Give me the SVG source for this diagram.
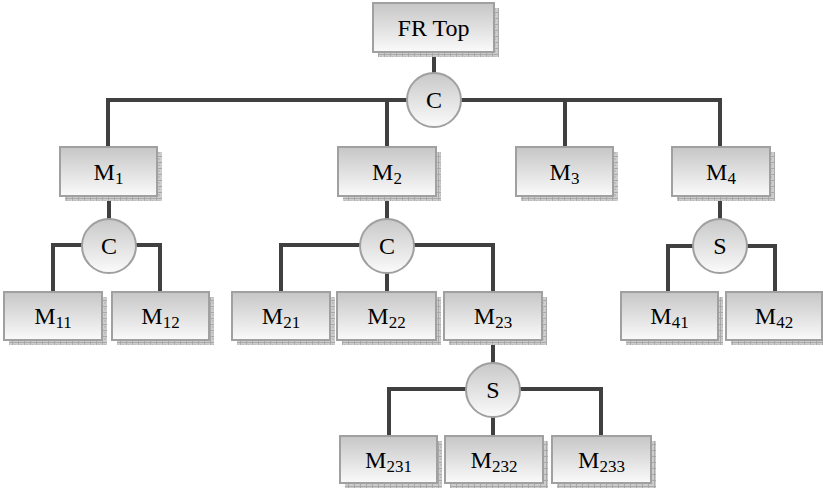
<svg xmlns="http://www.w3.org/2000/svg" width="823" height="492" viewBox="0 0 823 492">
<defs>
<linearGradient id="boxg" x1="0" y1="0" x2="0" y2="1">
<stop offset="0" stop-color="#c6c6c6"/>
<stop offset="1" stop-color="#fafafa"/>
</linearGradient>
<linearGradient id="circg" x1="0" y1="0" x2="0" y2="1">
<stop offset="0" stop-color="#c8c8c8"/>
<stop offset="1" stop-color="#fbfbfb"/>
</linearGradient>
<pattern id="hatch" width="6" height="6" patternUnits="userSpaceOnUse">
<rect width="6" height="6" fill="#cdcdcd"/>
<path d="M0 0.5H6M0.5 0V6" stroke="#a9a9a9" stroke-width="1"/>
<rect x="2" y="2" width="2" height="2" fill="#bdbdbd"/>
</pattern>
</defs>
<style>
.box{fill:url(#boxg);stroke:#a0a0a0;stroke-width:2}
.sh{fill:url(#hatch)}
.circ{fill:url(#circg);stroke:#a0a0a0;stroke-width:2}
.lbl{font-family:"Liberation Serif","Times New Roman",serif;font-size:24px;fill:#000;text-anchor:middle}
.sub{font-size:17px}
.con{fill:none;stroke:#404040;stroke-width:4}
</style>
<g id="connectors">
<path class="con" d="M434 52V73"/>
<path class="con" d="M108 147V100H720V147M387 100V147M565 100V147"/>
<path class="con" d="M109 196V219M53 292V245H160V292"/>
<path class="con" d="M387 196V219M281 292V245H493V292M387 273V292"/>
<path class="con" d="M720 196V219M668 292V246H775V292"/>
<path class="con" d="M493 340V363M389 436V389H601V436M493 417V436"/>
</g>
<g id="FRTop"><rect class="sh" x="378" y="8" width="121" height="49"/><rect class="box" x="373" y="3" width="121" height="49"/><text class="lbl" x="433.5" y="36">FR Top</text></g>
<g id="C0"><circle class="circ" cx="434" cy="100" r="27"/><text class="lbl" x="434" y="108">C</text></g>
<g id="M1"><rect class="sh" x="65" y="152" width="97" height="49"/><rect class="box" x="60" y="147" width="97" height="49"/><text class="lbl" x="108.5" y="180">M<tspan class="sub" dy="4">1</tspan></text></g>
<g id="M2"><rect class="sh" x="343" y="152" width="98" height="49"/><rect class="box" x="338" y="147" width="98" height="49"/><text class="lbl" x="387" y="180">M<tspan class="sub" dy="4">2</tspan></text></g>
<g id="M3"><rect class="sh" x="521" y="152" width="97" height="49"/><rect class="box" x="516" y="147" width="97" height="49"/><text class="lbl" x="564.5" y="180">M<tspan class="sub" dy="4">3</tspan></text></g>
<g id="M4"><rect class="sh" x="677" y="152" width="98" height="49"/><rect class="box" x="672" y="147" width="98" height="49"/><text class="lbl" x="721" y="180">M<tspan class="sub" dy="4">4</tspan></text></g>
<g id="C1"><circle class="circ" cx="109" cy="246" r="27"/><text class="lbl" x="109" y="254">C</text></g>
<g id="C2"><circle class="circ" cx="387" cy="246" r="27"/><text class="lbl" x="387" y="254">C</text></g>
<g id="S4"><circle class="circ" cx="720" cy="246" r="27"/><text class="lbl" x="720" y="254">S</text></g>
<g id="M11"><rect class="sh" x="9" y="297" width="98" height="48"/><rect class="box" x="4" y="292" width="98" height="48"/><text class="lbl" x="53" y="324">M<tspan class="sub" dy="4">11</tspan></text></g>
<g id="M12"><rect class="sh" x="117" y="297" width="97" height="48"/><rect class="box" x="112" y="292" width="97" height="48"/><text class="lbl" x="160.5" y="324">M<tspan class="sub" dy="4">12</tspan></text></g>
<g id="M21"><rect class="sh" x="237" y="297" width="98" height="48"/><rect class="box" x="232" y="292" width="98" height="48"/><text class="lbl" x="281" y="324">M<tspan class="sub" dy="4">21</tspan></text></g>
<g id="M22"><rect class="sh" x="342" y="297" width="99" height="48"/><rect class="box" x="337" y="292" width="99" height="48"/><text class="lbl" x="386.5" y="324">M<tspan class="sub" dy="4">22</tspan></text></g>
<g id="M23"><rect class="sh" x="449" y="297" width="98" height="48"/><rect class="box" x="444" y="292" width="98" height="48"/><text class="lbl" x="493" y="324">M<tspan class="sub" dy="4">23</tspan></text></g>
<g id="M41"><rect class="sh" x="626" y="297" width="97" height="48"/><rect class="box" x="621" y="292" width="97" height="48"/><text class="lbl" x="669.5" y="324">M<tspan class="sub" dy="4">41</tspan></text></g>
<g id="M42"><rect class="sh" x="731" y="297" width="96" height="48"/><rect class="box" x="726" y="292" width="96" height="48"/><text class="lbl" x="774" y="324">M<tspan class="sub" dy="4">42</tspan></text></g>
<g id="S23"><circle class="circ" cx="493" cy="390" r="27"/><text class="lbl" x="493" y="398">S</text></g>
<g id="M231"><rect class="sh" x="345" y="441" width="97" height="47"/><rect class="box" x="340" y="436" width="97" height="47"/><text class="lbl" x="388.5" y="468">M<tspan class="sub" dy="4">231</tspan></text></g>
<g id="M232"><rect class="sh" x="450" y="441" width="98" height="47"/><rect class="box" x="445" y="436" width="98" height="47"/><text class="lbl" x="494" y="468">M<tspan class="sub" dy="4">232</tspan></text></g>
<g id="M233"><rect class="sh" x="557" y="441" width="99" height="47"/><rect class="box" x="552" y="436" width="99" height="47"/><text class="lbl" x="601.5" y="468">M<tspan class="sub" dy="4">233</tspan></text></g>
</svg>
